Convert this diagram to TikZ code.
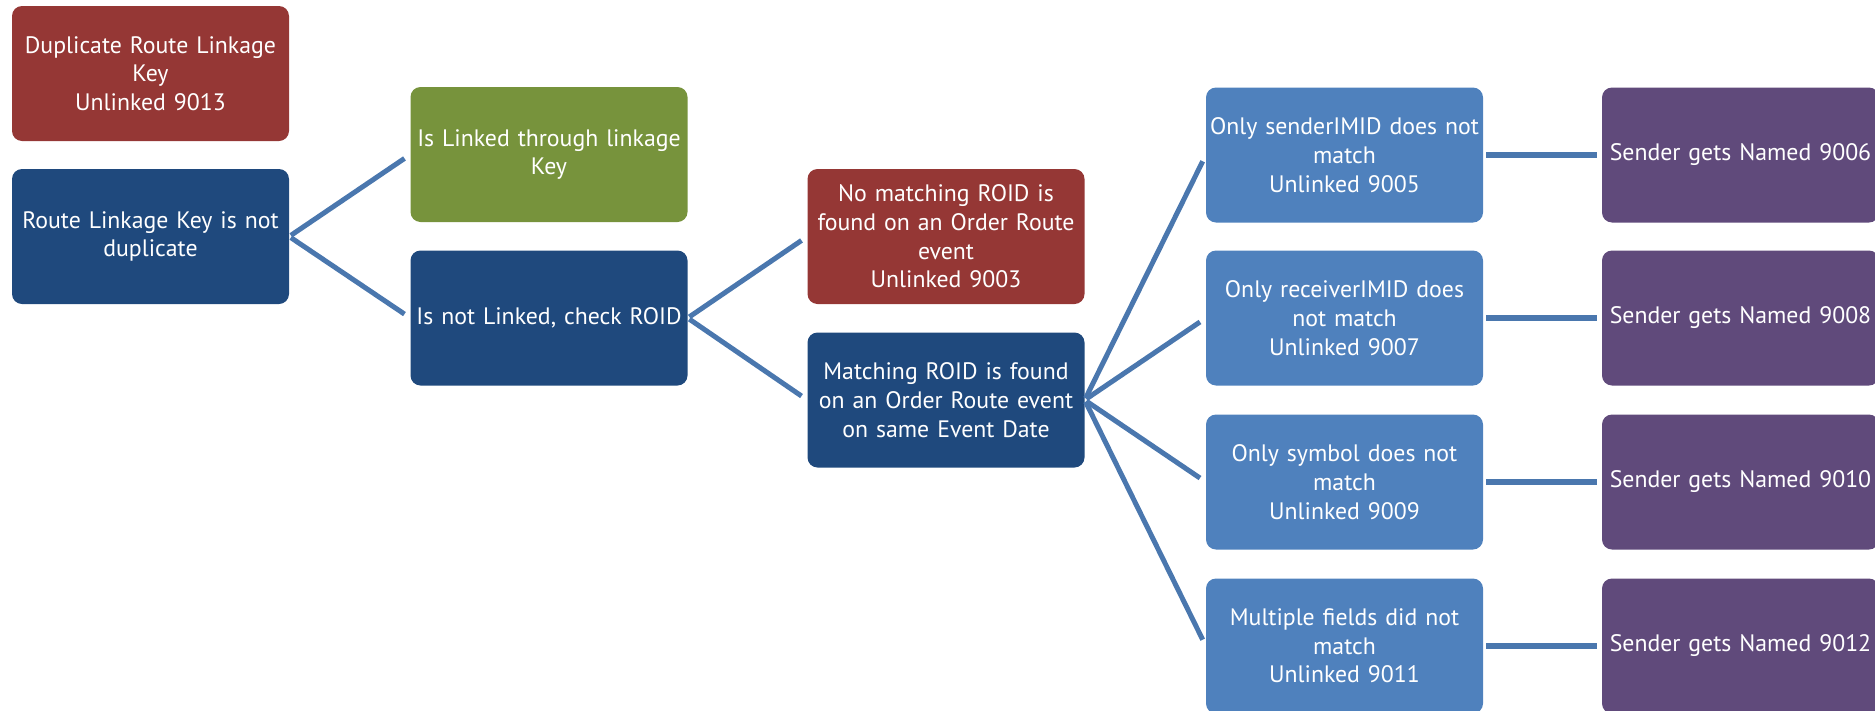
\documentclass[tikz,border=0pt]{standalone}
\usepackage{fontspec}
\setmainfont{PT Sans}
\definecolor{cred}{HTML}{953735}
\definecolor{cdark}{HTML}{1F497D}
\definecolor{cgreen}{HTML}{77933C}
\definecolor{clight}{HTML}{4F81BD}
\definecolor{cpurple}{HTML}{604A7B}
\definecolor{cline}{HTML}{4A77AE}
\tikzset{
  box/.style={rounded corners=10pt, minimum width=277pt, minimum height=135pt,
    inner sep=0pt, text width=276pt, align=center, text=white,
    font=\fontsize{23.8}{28.7}\selectfont},
  conn/.style={draw=cline, line width=5pt, shorten <=2pt, shorten >=7pt},
  hconn/.style={draw=cline, line width=6.5pt, shorten <=3pt, shorten >=5pt}
}
\begin{document}
\begin{tikzpicture}[x=1pt,y=-1pt]
\useasboundingbox (0,0) rectangle (1875,710);
\node[box, fill=cred] (dup) at (150.5,73.5) {Duplicate Route Linkage\\Key\\Unlinked 9013};
\node[box, fill=cdark] (root) at (150.5,236.5) {Route Linkage Key is not\\duplicate};
\node[box, fill=cgreen] (linked) at (549,154.5) {Is Linked through linkage\\Key};
\node[box, fill=cdark] (notlinked) at (549,318) {Is not Linked, check ROID};
\node[box, fill=cred] (nomatch) at (946,236.5) {No matching ROID is\\found on an Order Route\\event\\Unlinked 9003};
\node[box, fill=cdark] (match) at (946,400) {Matching ROID is found\\on an Order Route event\\on same Event Date};
\node[box, fill=clight] (s1) at (1344.5,155) {Only senderIMID does not\\match\\Unlinked 9005};
\node[box, fill=clight] (s2) at (1344.5,318) {Only receiverIMID does\\not match\\Unlinked 9007};
\node[box, fill=clight] (s3) at (1344.5,482) {Only symbol does not\\match\\Unlinked 9009};
\node[box, fill=clight] (s4) at (1344.5,646) {Multiple fields did not\\match\\Unlinked 9011};
\node[box, fill=cpurple] (p1) at (1740.5,155) {Sender gets Named 9006};
\node[box, fill=cpurple] (p2) at (1740.5,318) {Sender gets Named 9008};
\node[box, fill=cpurple] (p3) at (1740.5,482) {Sender gets Named 9010};
\node[box, fill=cpurple] (p4) at (1740.5,646) {Sender gets Named 9012};
\draw[conn] (root.east) -- (linked.west);
\draw[conn] (root.east) -- (notlinked.west);
\draw[conn] (notlinked.east) -- (nomatch.west);
\draw[conn] (notlinked.east) -- (match.west);
\draw[conn] (match.east) -- (s1.west);
\draw[conn] (match.east) -- (s2.west);
\draw[conn] (match.east) -- (s3.west);
\draw[conn] (match.east) -- (s4.west);
\draw[hconn] (s1.east) -- (p1.west);
\draw[hconn] (s2.east) -- (p2.west);
\draw[hconn] (s3.east) -- (p3.west);
\draw[hconn] (s4.east) -- (p4.west);
\end{tikzpicture}
\end{document}
